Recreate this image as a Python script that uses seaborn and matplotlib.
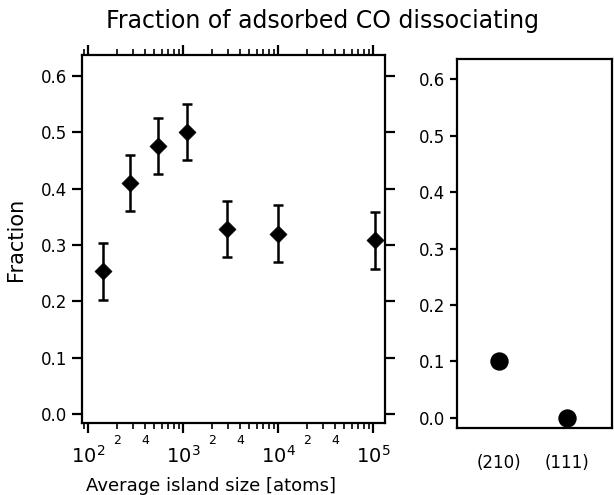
import numpy as np
import pandas as pd
import matplotlib
matplotlib.use("Agg")
import matplotlib.pyplot as plt
import matplotlib.ticker as mticker
import seaborn as sns

# island size data (left panel)
island_size = [145, 280, 540, 1100, 2900, 10000, 105000]
fraction = [0.253, 0.41, 0.476, 0.50, 0.328, 0.32, 0.308]
fraction_err = [0.05, 0.05, 0.05, 0.05, 0.05, 0.05, 0.05]

# single crystal surfaces (right panel)
surfaces = ["(210)", "(111)"]
surface_fraction = [0.10, 0.0]

sns.set_style("ticks", {'axes.edgecolor': 'black', 'text.color': 'black',
                        'xtick.color': 'black', 'ytick.color': 'black',
                        'axes.labelcolor': 'black'})
plt.rcParams['font.family'] = ['DejaVu Sans']
plt.rcParams['mathtext.default'] = 'regular'

islands = pd.DataFrame({'size': island_size, 'fraction': fraction, 'err': fraction_err})
crystals = pd.DataFrame({'surface': surfaces, 'fraction': surface_fraction})

fig = plt.figure(figsize=(6.14, 4.95), dpi=100)
ax1 = fig.add_axes([0.1336, 0.1455, 0.4935, 0.7434])
ax2 = fig.add_axes([0.7443, 0.1354, 0.2524, 0.7455])

# left panel: fraction vs island size
ax1.errorbar(islands['size'], islands['fraction'], yerr=islands['err'], fmt='none',
             ecolor='black', elinewidth=1.8, capsize=3.5, capthick=1.8, zorder=2)
sns.scatterplot(data=islands, x='size', y='fraction', marker='D', s=75, color='black',
                edgecolor='black', linewidth=0.5, ax=ax1, zorder=3)
ax1.set_xscale('log')
ax1.set_xlim(86.5, 1.34e5)
ax1.set_ylim(-0.016, 0.637)

def minor_label(v, pos):
    m = int(round(v / 10 ** np.floor(np.log10(v) + 1e-9)))
    return str(m) if m in (2, 4) else ''

ax1.xaxis.set_major_locator(mticker.LogLocator(base=10, numticks=10))
ax1.xaxis.set_major_formatter(mticker.LogFormatterMathtext())
ax1.xaxis.set_minor_locator(mticker.LogLocator(base=10, subs=np.arange(2, 10), numticks=10))
ax1.xaxis.set_minor_formatter(mticker.FuncFormatter(minor_label))
ax1.set_yticks([0.0, 0.1, 0.2, 0.3, 0.4, 0.5, 0.6])
ax1.yaxis.set_major_formatter(mticker.FormatStrFormatter('%.1f'))

ax1.tick_params(axis='x', which='major', direction='out', length=7, width=1.6,
                labelsize=14, pad=9, top=True, bottom=True)
ax1.tick_params(axis='x', which='minor', direction='out', length=4, width=1.2,
                labelsize=9, pad=4, top=True, bottom=True)
ax1.tick_params(axis='y', direction='out', length=7, width=1.6, labelsize=12,
                left=True, right=True, labelright=False)
for sp in ax1.spines.values():
    sp.set_linewidth(1.6)

ax1.set_ylabel('Fraction', fontsize=15, labelpad=11)
ax1.set_xlabel('Average island size [atoms]', fontsize=13)
ax1.xaxis.set_label_coords(0.426, -0.148)

# right panel: single crystals
sns.scatterplot(data=crystals, x='surface', y='fraction', s=150, color='black',
                edgecolor='black', ax=ax2, zorder=3, clip_on=False)
ax2.set_xlim(-0.617, 1.661)
ax2.set_ylim(-0.018, 0.636)
ax2.set_yticks([0.0, 0.1, 0.2, 0.3, 0.4, 0.5, 0.6])
ax2.yaxis.set_major_formatter(mticker.FormatStrFormatter('%.1f'))
ax2.tick_params(axis='x', length=0, pad=19, labelsize=12)
ax2.tick_params(axis='y', direction='out', length=5, width=1.6, labelsize=12)
ax2.set_xlabel('')
ax2.set_ylabel('')
for sp in ax2.spines.values():
    sp.set_linewidth(1.6)

fig.text(0.526, 0.944, 'Fraction of adsorbed CO dissociating', ha='center', va='baseline', fontsize=17)

fig.savefig('out.png', dpi=100)
